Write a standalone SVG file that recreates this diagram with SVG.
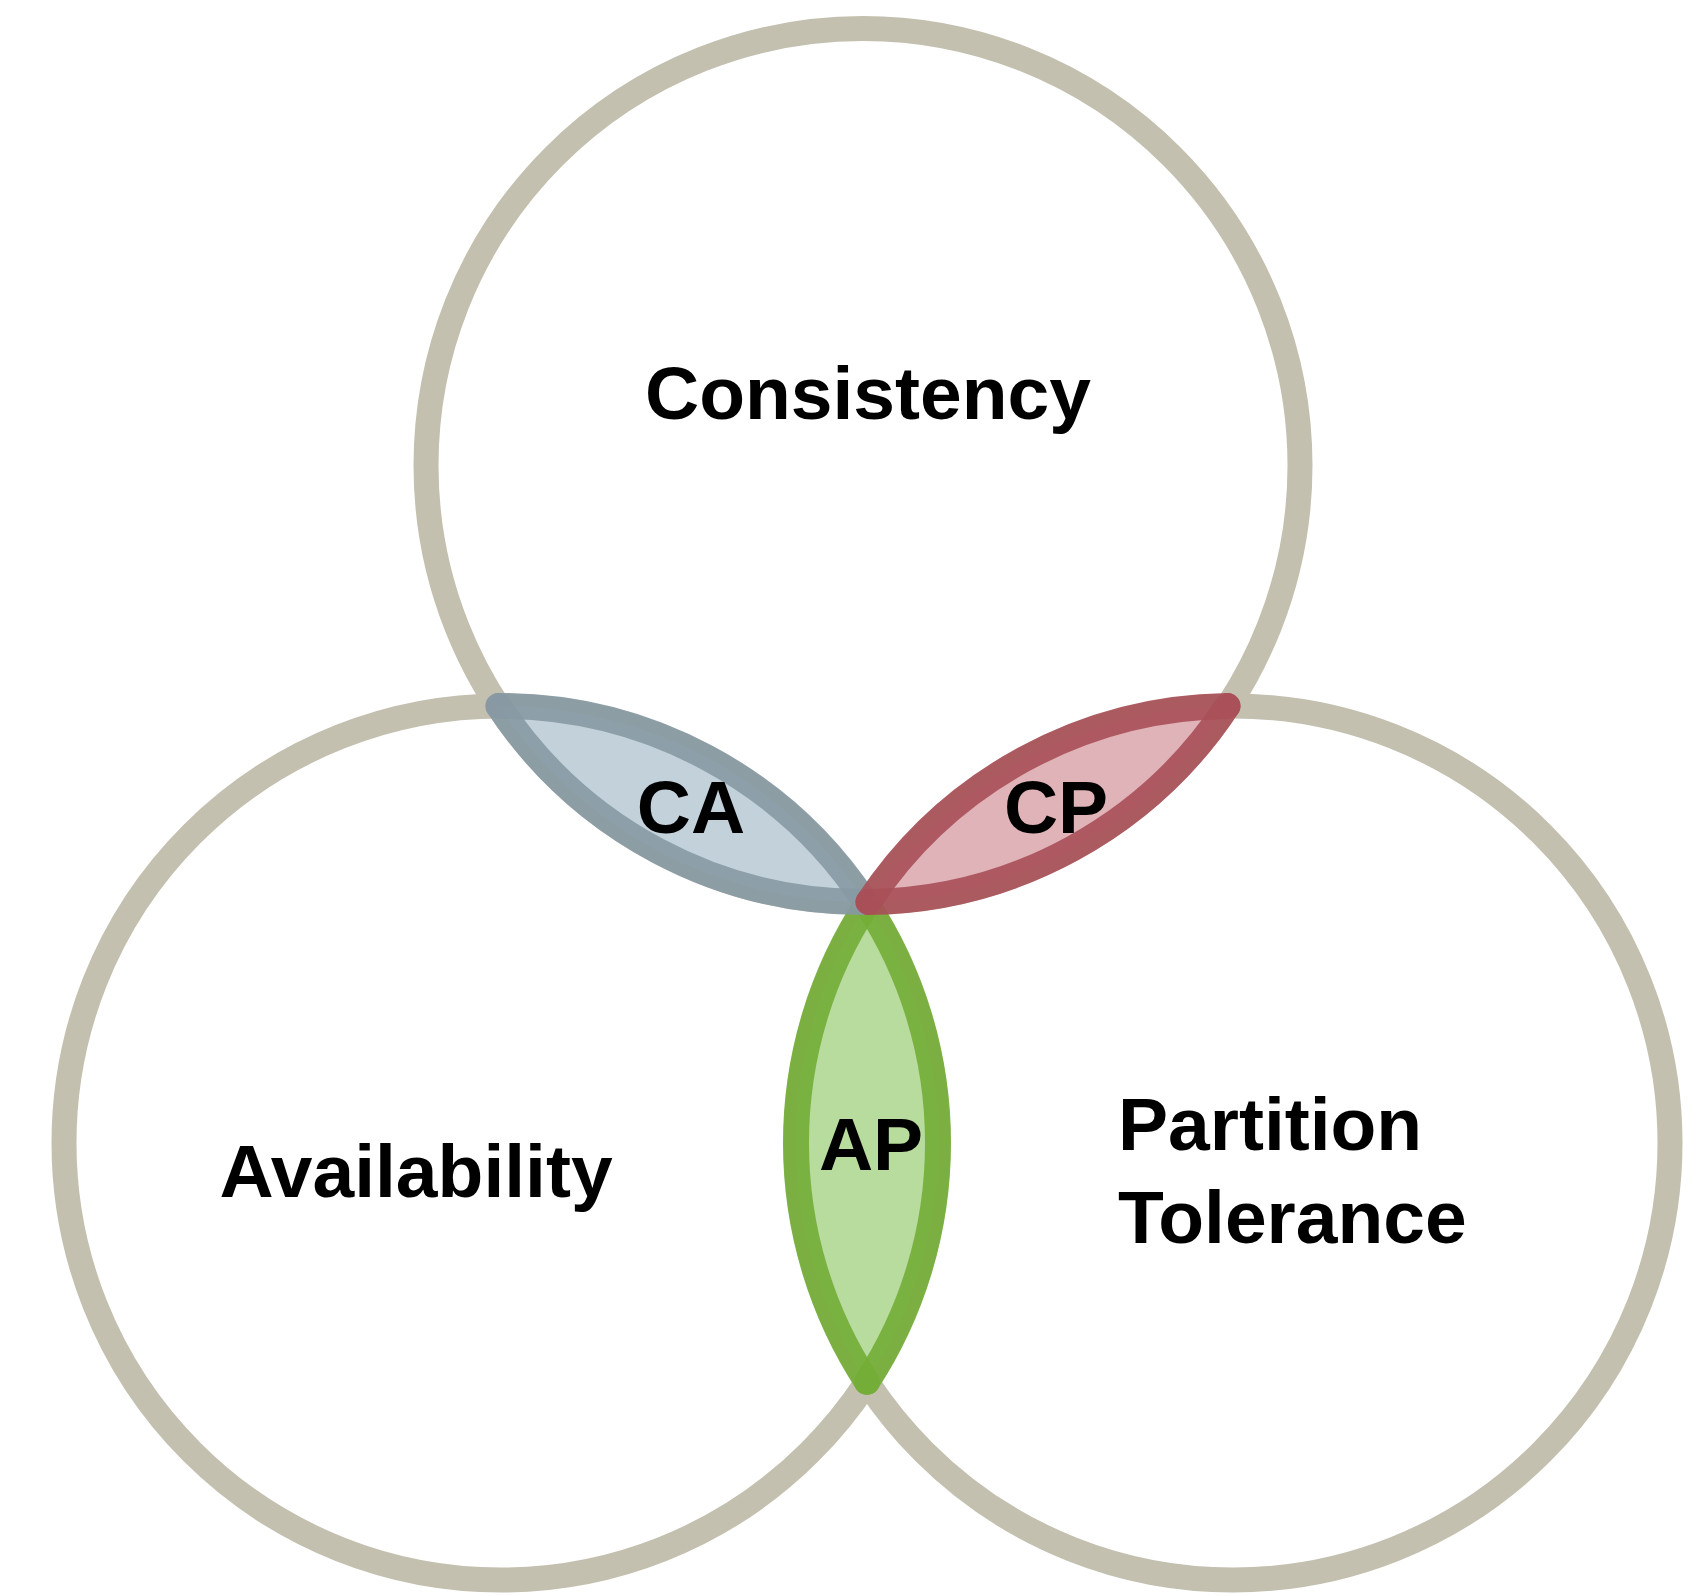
<svg xmlns="http://www.w3.org/2000/svg" width="1696" height="1596" viewBox="0 0 1696 1596">
<style>
.circle{fill:none;stroke:#C4C0B0;stroke-width:25}
.lbl{font-family:"Liberation Sans",Arial,sans-serif;font-weight:bold;font-size:75px;fill:#000}
.arc{fill:none;stroke-width:26;stroke-linecap:round;stroke-opacity:0.9}
.ca .fill{fill:#C3D1DA}.ca .arc{stroke:#8799A3}
.cp .fill{fill:#E0B3B9}.cp .arc{stroke:#A84F58}
.ap .fill{fill:#B8DB9E}.ap .arc{stroke:#73AD36}
</style>
<rect width="1696" height="1596" fill="#FFFFFF"/>
<g id="consistency">
<circle class="circle" cx="863" cy="465.5" r="437"/>
</g>
<g id="availability">
<circle class="circle" cx="501" cy="1143" r="437"/>
</g>
<g id="partition-tolerance">
<circle class="circle" cx="1233" cy="1143" r="437"/>
</g>
<g id="ap" class="ap">
<path class="fill" d="M867,904.2 A437,437 0 0 1 867,1381.8 A437,437 0 0 1 867,904.2 Z"/>
<path class="arc" d="M867,904.2 A437,437 0 0 1 867,1381.8"/>
<path class="arc" d="M867,1381.8 A437,437 0 0 1 867,904.2"/>
</g>
<g id="ca" class="ca">
<path class="fill" d="M498.5,706 A437,437 0 0 1 865.5,902 A437,437 0 0 1 498.5,706 Z"/>
<path class="arc" d="M498.5,706 A437,437 0 0 1 865.5,902"/>
<path class="arc" d="M865.5,902 A437,437 0 0 1 498.5,706"/>
</g>
<g id="cp" class="cp">
<path class="fill" d="M868.5,902 A437,437 0 0 0 1227.5,706 A437,437 0 0 0 868.5,902 Z"/>
<path class="arc" d="M868.5,902 A437,437 0 0 0 1227.5,706"/>
<path class="arc" d="M1227.5,706 A437,437 0 0 0 868.5,902"/>
</g>
<g id="labels">
<text class="lbl" x="868" y="419" text-anchor="middle">Consistency</text>
<text class="lbl" x="416" y="1197" text-anchor="middle">Availability</text>
<text class="lbl" x="1118" y="1150">Partition</text>
<text class="lbl" x="1118" y="1243">Tolerance</text>
<text class="lbl" x="691" y="833" text-anchor="middle">CA</text>
<text class="lbl" x="1056" y="833" text-anchor="middle">CP</text>
<text class="lbl" x="871" y="1170" text-anchor="middle">AP</text>
</g>
</svg>
